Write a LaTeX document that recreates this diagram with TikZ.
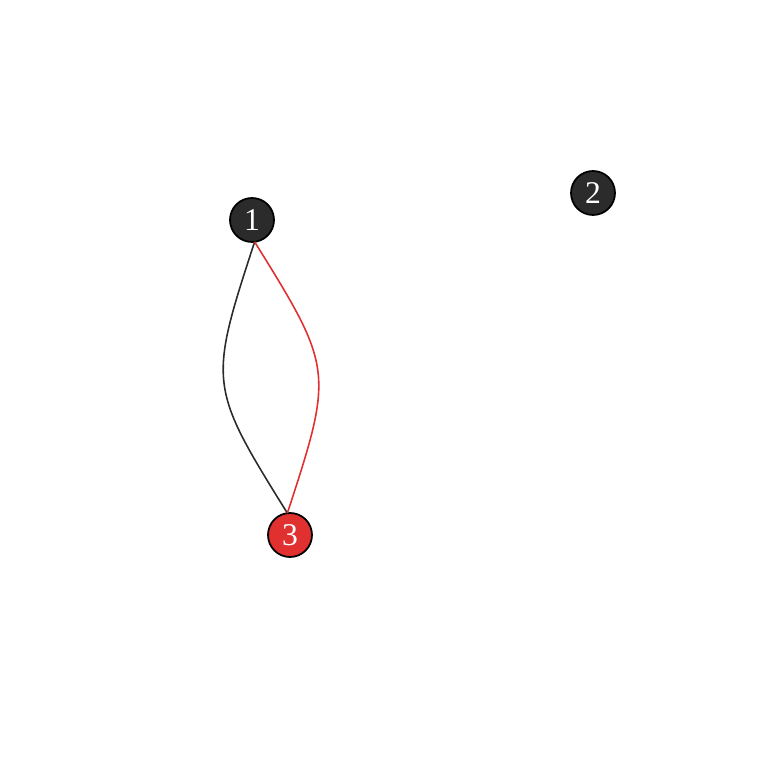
\documentclass[tikz,border=0pt]{standalone}
\usepackage{fontspec}
\setmainfont{Liberation Serif}
\usetikzlibrary{calc}

\definecolor{vdark}{HTML}{2B2B2B}
\definecolor{vred}{HTML}{E0302F}

\tikzset{
    vertex/.style={circle, draw=black, line width=1pt, minimum size=0.88cm, inner sep=0pt,
        text=white, font=\fontsize{18}{18}\selectfont},
    link/.style={line width=0.9pt, looseness=1.4}
}

\begin{document}
\begin{tikzpicture}[scale=1]

    % Canvas with the same margins as the plot
    \useasboundingbox (0,0) rectangle (15.36,15.36);

    % Vertices
    \node[vertex, fill=vdark] (v1) at (5.04,10.96) {1};
    \node[vertex, fill=vdark] (v2) at (11.86,11.5) {2};
    \node[vertex, fill=vred] (v3) at (5.8,4.66) {3};

    % End points on the rims, along the centre line
    \coordinate (s13) at ($(v1)!0.44cm!(v3)$);
    \coordinate (t13) at ($(v3)!0.44cm!(v1)$);

    % Two curved edges between 1 and 3
    \draw[link, vdark] (s13) to[bend right=25] (t13); % Black edge, bulging left
    \draw[link, vred] (s13) to[bend left=25] (t13); % Red edge, bulging right
\end{tikzpicture}
\end{document}
